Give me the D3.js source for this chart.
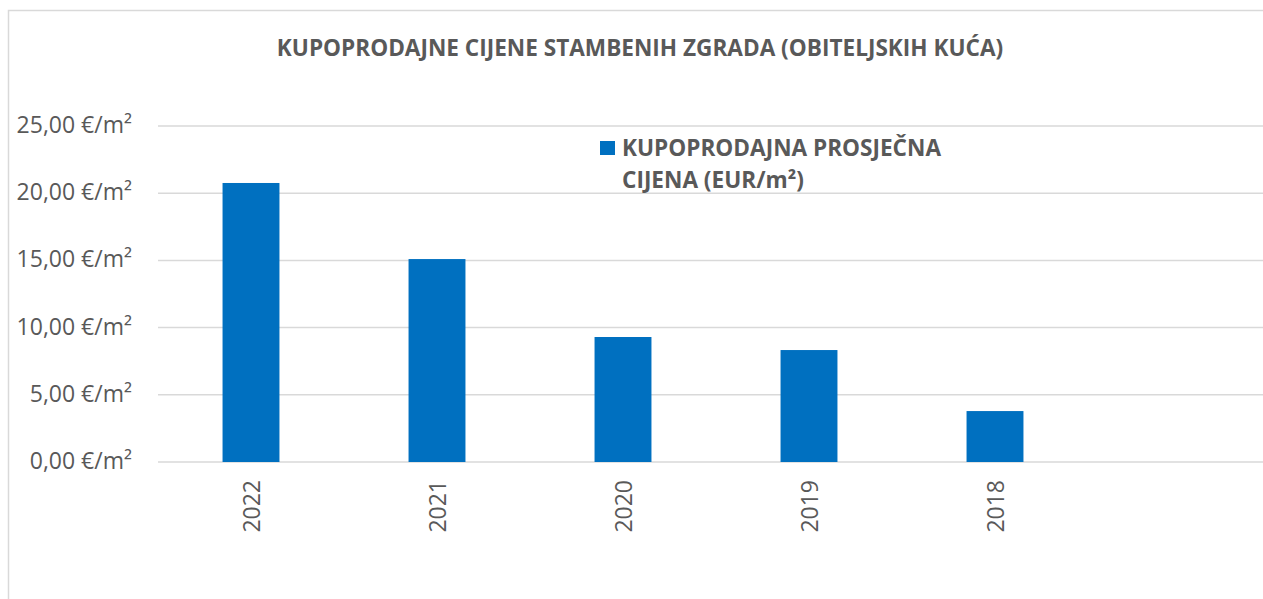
<!DOCTYPE html>
<html><head><meta charset="utf-8">
<script src="https://cdn.jsdelivr.net/npm/d3@7"></script>
<style>body{margin:0;background:#fff}svg{display:block}text{font-family:"Open Sans",sans-serif;fill:#595959}</style>
</head><body><svg id="c" width="1263" height="599"></svg>
<script>
const categories = ["2022","2021","2020","2019","2018"];
const values = [20.76, 15.10, 9.30, 8.33, 3.79];
const yTicks = [0,5,10,15,20,25];
const title = "KUPOPRODAJNE CIJENE STAMBENIH ZGRADA (OBITELJSKIH KUĆA)";
const seriesName = ["KUPOPRODAJNA PROSJEČNA","CIJENA (EUR/m²)"];

const svg = d3.select("#c");
const W = 1263, H = 599;
// border
svg.append("path").attr("d","M8.5,599 L8.5,10.5 L1263,10.5").attr("fill","none").attr("stroke","#d9d9d9").attr("stroke-width",1.5);

const x = d3.scaleBand().domain(categories).range([158,1088]).paddingInner(0.694).paddingOuter(0.347);
const y = d3.scaleLinear().domain([0,25]).range([462,126]);

// gridlines
svg.append("g").selectAll("line").data(yTicks).join("line")
  .attr("x1",158).attr("x2",W).attr("y1",d=>y(d)).attr("y2",d=>y(d))
  .attr("stroke","#d9d9d9").attr("stroke-width",1.5);

// y axis labels
const fmt = d => d.toFixed(2).replace(".",",") + " €/m²";
svg.append("g").selectAll("text").data(yTicks).join("text")
  .attr("x",132).attr("y",d=>y(d)+7).attr("text-anchor","end")
  .attr("font-size",23).text(fmt);

// bars
svg.append("g").selectAll("rect").data(values).join("rect")
  .attr("x",(d,i)=>x(categories[i])).attr("width",x.bandwidth())
  .attr("y",d=>y(d)).attr("height",d=>y(0)-y(d)).attr("fill","#0070C0");

// x labels
svg.append("g").selectAll("text").data(categories).join("text")
  .attr("transform",d=>`translate(${x(d)+x.bandwidth()/2+8.5},480) rotate(-90)`)
  .attr("text-anchor","end").attr("font-size",23).text(d=>d);

// title
svg.append("text").attr("x",640).attr("y",56).attr("text-anchor","middle")
  .attr("font-size",22.6).attr("font-weight","bold").text(title);

// legend
svg.append("rect").attr("x",600).attr("y",141).attr("width",15).attr("height",14).attr("fill","#0070C0");
svg.append("g").selectAll("text").data(seriesName).join("text")
  .attr("x",622).attr("y",(d,i)=>156+i*32).attr("font-size",22.6).attr("font-weight","bold").text(d=>d);
</script></body></html>
